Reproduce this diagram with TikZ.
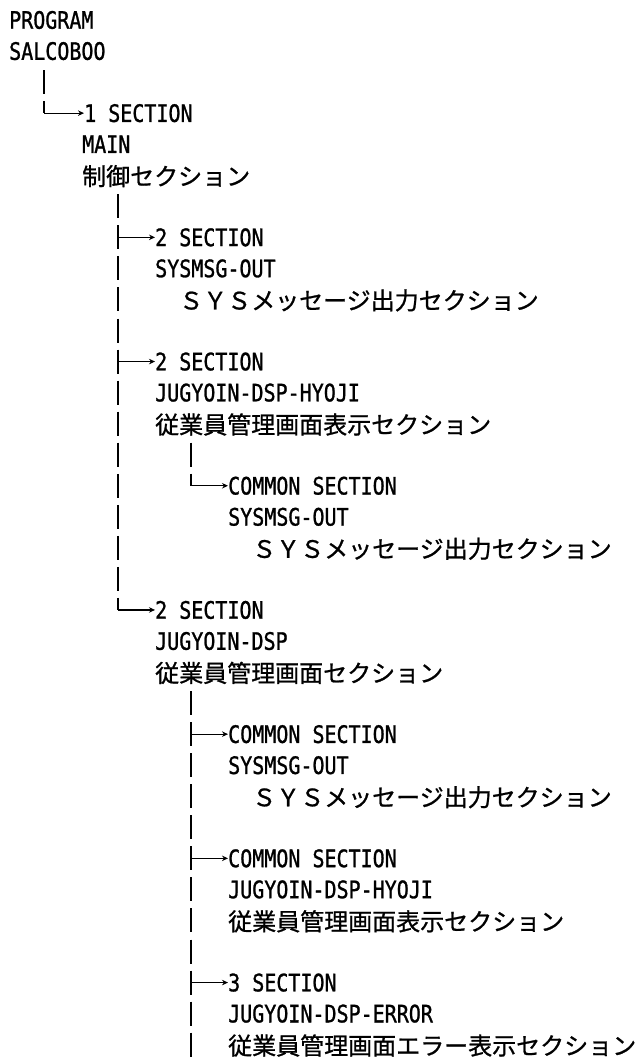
\documentclass[tikz,border=0pt]{standalone}
\usepackage{fontspec}
\usetikzlibrary{arrows.meta}
\newfontfamily\latinface[FakeBold=1.2]{DejaVu Sans Mono}
\newfontfamily\cjkface[FakeBold=0.9]{Noto Sans CJK JP}
\newcommand{\RowY}[1]{20+31.05*#1}
\newcommand{\Lt}[1]{\scalebox{1}[1.2]{\fontsize{20pt}{20pt}\latinface #1}}
\newcommand{\Jp}[1]{\fontsize{24pt}{24pt}\cjkface #1}
\tikzset{
  lat/.style={anchor=west,inner sep=0pt,text height=17.5pt,text depth=0pt,font={}},
  jap/.style={anchor=west,inner sep=0pt,text height=20pt,text depth=0pt},
  trunk/.style={line width=2.7pt,dash pattern=on 24pt off 7.05pt,black},
  corner/.style={line width=1.6pt,black},
  arrowline/.style={line width=1.2pt,black,-{Stealth[length=6pt,width=5.5pt]}}
}
\begin{document}
\begin{tikzpicture}[x=1pt,y=-1pt]
\useasboundingbox[fill=white] (0,0) rectangle (640,1059);
% text rows
\node[lat] (r0) at (9,{\RowY{0}}) {\Lt{PROGRAM}};
\node[lat] (r1) at (9,{\RowY{1}}) {\Lt{SALCOBOO}};
\node[lat] (r3) at (84,{\RowY{3}}) {\Lt{1 SECTION}};
\node[lat] (r4) at (82,{\RowY{4}}) {\Lt{MAIN}};
\node[jap] (r5) at (82,{\RowY{5}}) {\Jp{制御セクション}};
\node[lat] (r7) at (155,{\RowY{7}}) {\Lt{2 SECTION}};
\node[lat] (r8) at (155,{\RowY{8}}) {\Lt{SYSMSG-OUT}};
\node[jap] (r9) at (179,{\RowY{9}}) {\Jp{ＳＹＳメッセージ出力セクション}};
\node[lat] (r11) at (155,{\RowY{11}}) {\Lt{2 SECTION}};
\node[lat] (r12) at (155,{\RowY{12}}) {\Lt{JUGYOIN-DSP-HYOJI}};
\node[jap] (r13) at (155,{\RowY{13}}) {\Jp{従業員管理画面表示セクション}};
\node[lat] (r15) at (228,{\RowY{15}}) {\Lt{COMMON SECTION}};
\node[lat] (r16) at (228,{\RowY{16}}) {\Lt{SYSMSG-OUT}};
\node[jap] (r17) at (252,{\RowY{17}}) {\Jp{ＳＹＳメッセージ出力セクション}};
\node[lat] (r19) at (155,{\RowY{19}}) {\Lt{2 SECTION}};
\node[lat] (r20) at (155,{\RowY{20}}) {\Lt{JUGYOIN-DSP}};
\node[jap] (r21) at (155,{\RowY{21}}) {\Jp{従業員管理画面セクション}};
\node[lat] (r23) at (228,{\RowY{23}}) {\Lt{COMMON SECTION}};
\node[lat] (r24) at (228,{\RowY{24}}) {\Lt{SYSMSG-OUT}};
\node[jap] (r25) at (252,{\RowY{25}}) {\Jp{ＳＹＳメッセージ出力セクション}};
\node[lat] (r27) at (228,{\RowY{27}}) {\Lt{COMMON SECTION}};
\node[lat] (r28) at (228,{\RowY{28}}) {\Lt{JUGYOIN-DSP-HYOJI}};
\node[jap] (r29) at (228,{\RowY{29}}) {\Jp{従業員管理画面表示セクション}};
\node[lat] (r31) at (228,{\RowY{31}}) {\Lt{3 SECTION}};
\node[lat] (r32) at (228,{\RowY{32}}) {\Lt{JUGYOIN-DSP-ERROR}};
\node[jap] (r33) at (228,{\RowY{33}}) {\Jp{従業員管理画面エラー表示セクション}};
% trunks: one coordinate per junction
\coordinate (a0) at (44,{\RowY{2}-12});
\coordinate (a1) at (44,{\RowY{3}-12});
\coordinate (a2) at (44,{\RowY{3}});
\coordinate (b0) at (118,{\RowY{6}-12});
\coordinate (b1) at (118,{\RowY{19}-12});
\coordinate (b7) at (118,{\RowY{7}});
\coordinate (b11) at (118,{\RowY{11}});
\coordinate (b19) at (118,{\RowY{19}});
\coordinate (c0) at (191,{\RowY{14}-12});
\coordinate (c1) at (191,{\RowY{15}-12});
\coordinate (c15) at (191,{\RowY{15}});
\coordinate (d0) at (191,{\RowY{22}-12});
\coordinate (d1) at (191,{\RowY{33}+12});
\coordinate (d23) at (191,{\RowY{23}});
\coordinate (d27) at (191,{\RowY{27}});
\coordinate (d31) at (191,{\RowY{31}});
\draw[trunk] (a0) -- (a1);
\draw[trunk] (b0) -- (b1);
\draw[trunk] (c0) -- (c1);
\draw[trunk] (d0) -- (d1);
\draw[corner] (a1) -- (a2);
\draw[corner] (b1) -- (b19);
\draw[corner] (c1) -- (c15);
% arrows
\draw[arrowline] (a2) -- (r3.west);
\draw[arrowline] (b7) -- (r7.west);
\draw[arrowline] (b11) -- (r11.west);
\draw[arrowline] (b19) -- (r19.west);
\draw[arrowline] (c15) -- (r15.west);
\draw[arrowline] (d23) -- (r23.west);
\draw[arrowline] (d27) -- (r27.west);
\draw[arrowline] (d31) -- (r31.west);
\end{tikzpicture}
\end{document}
